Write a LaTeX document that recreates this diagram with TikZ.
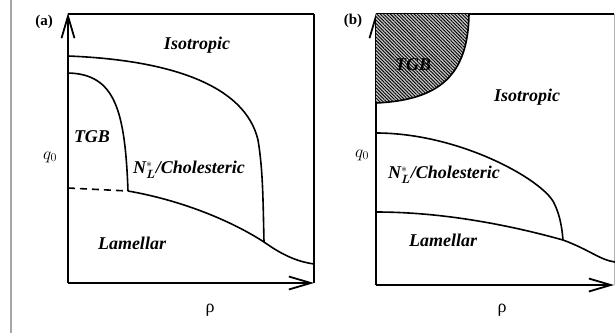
\documentclass[tikz,border=0pt]{standalone}
\usepackage{fontspec}
\setmainfont{Liberation Serif}
\usepackage{amsmath}
\usetikzlibrary{arrows.meta}
\usetikzlibrary{patterns.meta}
\usetikzlibrary{positioning}

% N_L^* with a text-font N
\newcommand{\nlstar}{N$^{*}_{\boldsymbol{L}}$}

\begin{document}
\begin{tikzpicture}[x=1pt, y=-1pt, line width=1.8pt,
    axis/.style={-{Straight Barb[length=22pt, width=13pt, line width=1.8pt]}},
    boundary/.style={line width=1.6pt},
    phase/.style={font=\fontsize{18}{20}\selectfont\bfseries\itshape, inner sep=0pt},
    panellabel/.style={font=\fontsize{15}{17}\selectfont\bfseries, inner sep=0pt},
    varlabel/.style={font=\fontsize{18}{20}\selectfont, inner sep=0pt}]
      \useasboundingbox (0,0) rectangle (615,333);
      % Grey rule on the left margin
      \draw[gray!70, line width=2pt] (11,0) -- (11,333);
      % Axes and frame of both panels
      \foreach \p/\xl/\xr/\yb in {a/68/314/283, b/376/614/285} {
        \coordinate (o\p) at (\xl,\yb);
        \coordinate (t\p) at (\xl,13);
        \coordinate (r\p) at (\xr,\yb);
        \coordinate (c\p) at (\xr,14);
        \draw[axis] (o\p) -- (t\p);
        \draw[axis] (o\p) -- (r\p);
        \draw[line width=1.4pt] (\xl,14) -- (c\p);
      }
      \draw[line width=1.4pt] (ca) -- (ra);
      \draw[gray!60, line width=0.8pt] (cb) -- (rb);

      % Panel (a): phase boundaries
      \coordinate (isoA) at (68,56);
      \coordinate (tgbA) at (68,73);
      \coordinate (lamA) at (68,188);
      \coordinate (triA) at (128,191);
      \coordinate (jnA) at (264,242);
      \coordinate (endA) at (314,264);
      \draw[boundary] (isoA) .. controls (170,60) and (245,85) .. (258,140)
        .. controls (263,170) and (263,200) .. (jnA);
      \draw[boundary] (tgbA) .. controls (115,74) and (125,110) .. (triA);
      \draw[boundary, dashed, dash pattern=on 7pt off 5pt] (lamA) -- (triA);
      \draw[boundary] (triA) .. controls (180,200) and (230,220) .. (jnA)
        .. controls (285,257) and (300,262) .. (endA);

      % Panel (a): labels
      \node[panellabel] (la) at (44,22) {(a)};
      \node[phase] (isoa) at (197,45) {Isotropic};
      \node[phase] (tgba) at (92,137) {TGB};
      \node[phase] (chola) at (189,170) {\nlstar/Cholesteric};
      \node[phase] (lama) at (132,243) {Lamellar};
      \node[varlabel] (qa) at (50,157) {$q_0$};
      \node[varlabel] (rhoa) at (210,310) {ρ};

      % Panel (b): hatched TGB pocket
      \coordinate (tgbB) at (376,103);
      \coordinate (topB) at (469,14);
      \fill[gray!45] (376,14) -- (tgbB) .. controls (440,100) and (468,75) .. (topB) -- cycle;
      \path[pattern={Lines[angle=-45, distance=2.4pt, line width=0.9pt]}]
        (376,14) -- (tgbB) .. controls (440,100) and (468,75) .. (topB) -- cycle;
      \draw[boundary] (tgbB) .. controls (440,100) and (468,75) .. (topB);

      % Panel (b): phase boundaries
      \coordinate (cholB) at (376,133);
      \coordinate (lamB) at (376,212);
      \coordinate (jnB) at (563,240);
      \coordinate (endB) at (615,262);
      \draw[boundary] (cholB) .. controls (460,133) and (543,180) .. (554,203)
        .. controls (560,215) and (562,228) .. (jnB);
      \draw[boundary] (lamB) .. controls (450,212) and (520,228) .. (jnB)
        .. controls (590,250) and (600,260) .. (endB);

      % Panel (b): labels
      \node[panellabel] (lb) at (353,21) {(b)};
      \node[phase] (tgbb) at (413,65) {TGB};
      \node[phase] (isob) at (527,97) {Isotropic};
      \node[phase] (cholb) at (444,175) {\nlstar/Cholesteric};
      \node[phase] (lamb) at (443,240) {Lamellar};
      \node[varlabel] (qb) at (362,155) {$q_0$};
      \node[varlabel] (rhob) at (502,310) {ρ};
\end{tikzpicture}
\end{document}
